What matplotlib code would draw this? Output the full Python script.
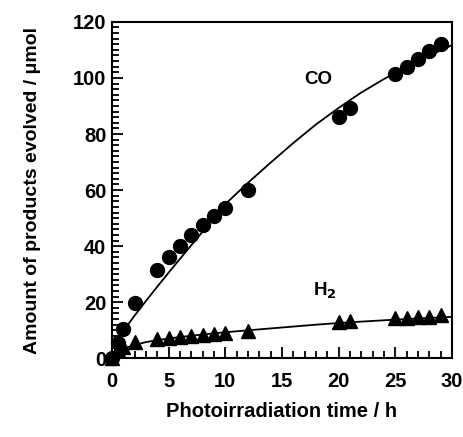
import matplotlib
matplotlib.use('Agg')
import matplotlib.pyplot as plt
from matplotlib.ticker import MultipleLocator

# measured points
time_h = [0, 0.5, 1, 2, 4, 5, 6, 7, 8, 9, 10, 12, 20, 21, 25, 26, 27, 28, 29]
co = [0, 5.3, 10.6, 19.9, 31.5, 36, 40.2, 44, 47.5, 50.6, 53.6, 60.2,
      86.2, 89.4, 101.3, 104, 106.7, 109.5, 112]
h2 = [0, 3, 4, 6, 7, 7.3, 7.7, 8, 8.3, 8.6, 9, 9.9,
      13, 13.2, 14.4, 14.5, 14.7, 14.9, 15.3]

# guide curves
co_curve_t = [0, 1, 2, 3, 4, 5, 6, 8, 10, 12, 14, 16, 18, 20, 22, 24, 26, 28, 30]
co_curve = [4.0, 9.8, 15.3, 20.5, 25.6, 30.6, 35.5, 45.2, 55.0, 62.6, 69.8,
            76.8, 83.4, 89.3, 94.8, 99.6, 103.9, 107.9, 111.7]
h2_curve_t = [0, 1, 2, 3, 4, 6, 8, 10, 12, 15, 18, 20, 22, 25, 28, 30]
h2_curve = [2.0, 3.5, 4.8, 5.8, 6.5, 7.6, 8.5, 9.3, 10.0, 11.0, 12.0,
            12.6, 13.1, 13.8, 14.4, 14.8]

plt.rcParams['font.family'] = ['Liberation Sans', 'DejaVu Sans']
plt.rcParams['font.weight'] = 'bold'

fig = plt.figure(figsize=(4.63, 4.37), dpi=100)
ax = fig.add_axes([0.242, 0.180, 0.734, 0.770])

ax.plot(co_curve_t, co_curve, color='black', lw=1.3, zorder=2)
ax.plot(h2_curve_t, h2_curve, color='black', lw=1.3, zorder=2)
ax.plot(time_h, co, 'o', color='black', ms=10, zorder=3, clip_on=False)
ax.plot(time_h, h2, '^', color='black', ms=10, zorder=3, clip_on=False)

ax.text(18.2, 99.3, 'CO', fontsize=13.5, fontweight='bold', ha='center', va='center')
ax.text(18.8, 24.2, r'H$_\mathbf{2}$', fontsize=13.5, fontweight='bold',
        ha='center', va='center')

ax.set_xlim(0, 30)
ax.set_ylim(0, 120)
ax.xaxis.set_major_locator(MultipleLocator(5))
ax.xaxis.set_minor_locator(MultipleLocator(1))
ax.yaxis.set_major_locator(MultipleLocator(20))
ax.yaxis.set_minor_locator(MultipleLocator(2))
ax.tick_params(which='both', direction='in', width=1.3, top=False, right=False,
               labelsize=14.5)
ax.tick_params(which='major', length=8)
ax.tick_params(axis='x', which='major', pad=10)
ax.tick_params(axis='y', which='major', pad=4)
ax.tick_params(which='minor', length=5)
for lab in ax.get_xticklabels() + ax.get_yticklabels():
    lab.set_fontweight('bold')
for sp in ax.spines.values():
    sp.set_linewidth(1.5)

ax.set_xlabel('Photoirradiation time / h', fontsize=14.5, fontweight='bold', labelpad=8)
ax.set_ylabel('Amount of products evolved / μmol', fontsize=14, fontweight='bold',
              labelpad=23)

fig.savefig('out.png', dpi=100)
